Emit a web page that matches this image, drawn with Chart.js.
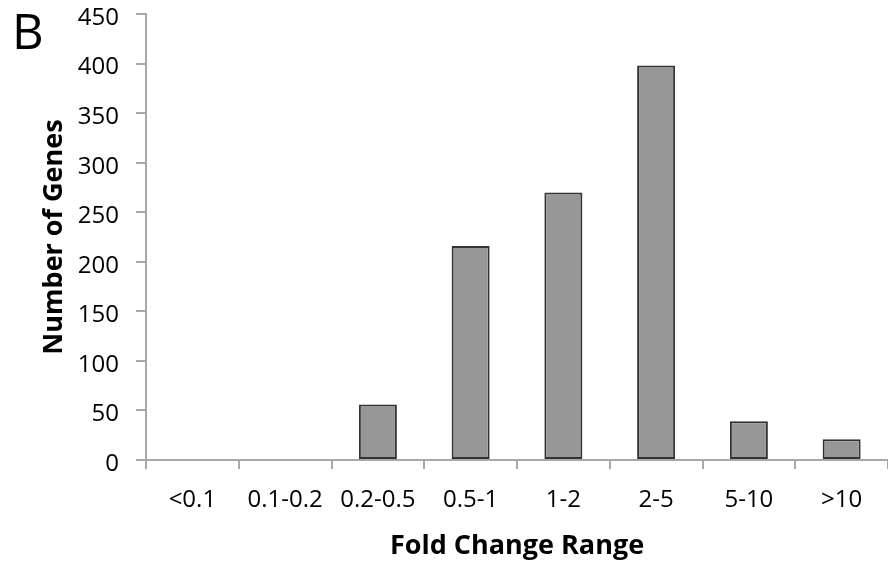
<!DOCTYPE html>
<html>
<head>
<meta charset="utf-8">
<script src="https://cdn.jsdelivr.net/npm/chart.js@4.4.1/dist/chart.umd.min.js"></script>
<style>
  html, body { margin: 0; padding: 0; background: #fff; }
  #wrap { position: relative; width: 888px; height: 565px; }
  #panel { position: absolute; left: 12px; top: 6px; font: 49px "Open Sans", sans-serif; color: #000; line-height: 1; }
  canvas { display: block; }
</style>
</head>
<body>
<div id="wrap">
  <canvas id="c" width="888" height="565"></canvas>
  <div id="panel">B</div>
</div>
<script>
// Fold-change bins and the number of genes in each
const categories = ['<0.1', '0.1-0.2', '0.2-0.5', '0.5-1', '1-2', '2-5', '5-10', '>10'];
const geneCounts = [0, 0, 56, 216, 270, 398, 39, 21];
const yTicks = { min: 0, max: 450, step: 50 };

const axisGray = '#a8a8a8';
const textColor = '#000';
const font = { family: '"Open Sans", sans-serif', size: 24 };
const titleFont = { family: '"Open Sans", sans-serif', size: 27, weight: 'bold' };

new Chart(document.getElementById('c'), {
  type: 'bar',
  data: {
    labels: categories,
    datasets: [{
      data: geneCounts,
      backgroundColor: '#979797',
      borderColor: '#333333',
      borderWidth: 2,
      borderSkipped: false,
      categoryPercentage: 1,
      barPercentage: 0.41
    }]
  },
  options: {
    responsive: false,
    animation: false,
    layout: { padding: { top: 14, right: 0, left: 0, bottom: 0 } },
    plugins: { legend: { display: false }, tooltip: { enabled: false } },
    scales: {
      x: {
        grid: { drawOnChartArea: false, drawTicks: true, tickLength: 9, color: axisGray, lineWidth: 2, offset: true },
        border: { color: axisGray, width: 2 },
        ticks: { color: textColor, font: font, padding: 17, maxRotation: 0, autoSkip: false },
        title: { display: true, text: 'Fold Change Range', color: textColor, font: titleFont, padding: { top: 0, bottom: 2 } },
        afterFit: s => { s.height = 105; s.paddingLeft = 0; s.paddingRight = 0; }
      },
      y: {
        min: yTicks.min,
        max: yTicks.max,
        grid: { drawOnChartArea: false, drawTicks: true, tickLength: 10, color: axisGray, lineWidth: 2 },
        border: { color: axisGray, width: 2 },
        ticks: { stepSize: yTicks.step, color: textColor, font: font, padding: 17, labelOffset: 4 },
        title: { display: true, text: 'Number of Genes', color: textColor, font: titleFont, padding: { top: 38, bottom: 0 } },
        afterFit: s => { s.width = 146; s.paddingTop = 0; s.paddingBottom = 0; }
      }
    }
  }
});
</script>
</body>
</html>
